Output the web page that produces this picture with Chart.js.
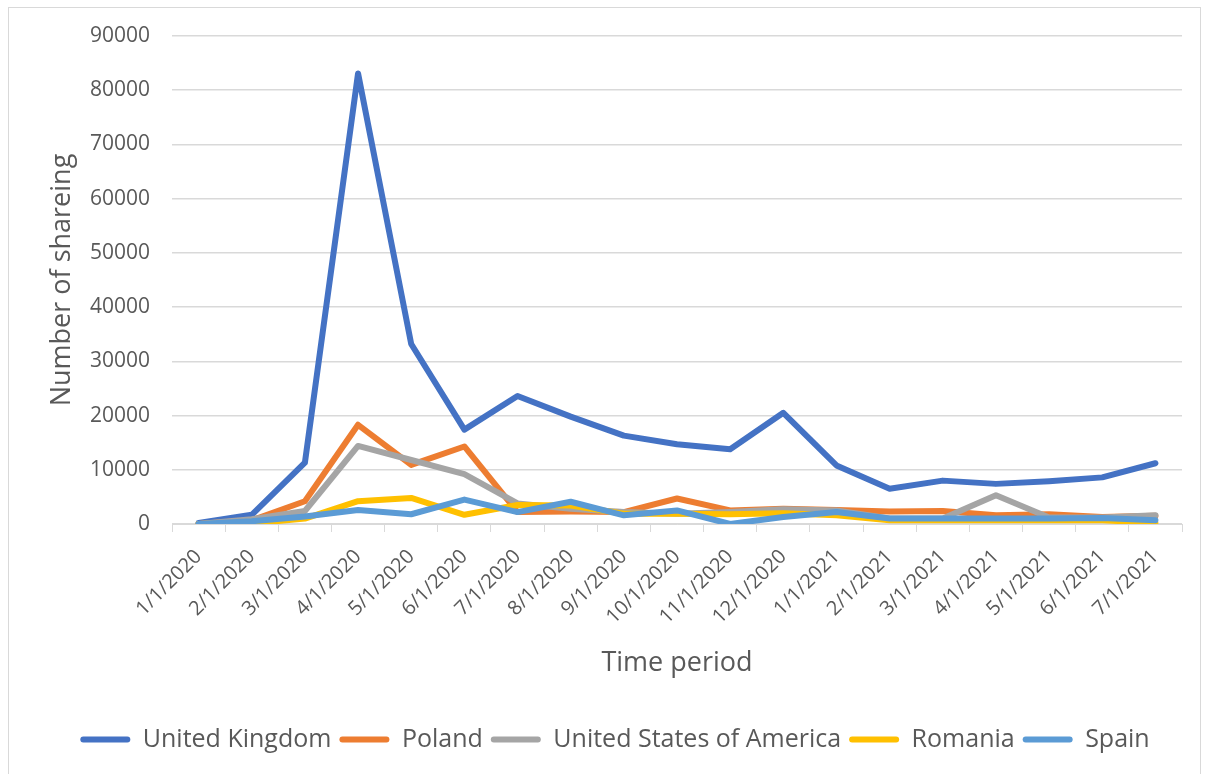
<!DOCTYPE html>
<html>
<head>
<meta charset="utf-8">
<script src="https://cdn.jsdelivr.net/npm/chart.js@4/dist/chart.umd.min.js"></script>
<style>
  html, body { margin: 0; padding: 0; background: #ffffff; }
  #wrap { position: relative; width: 1208px; height: 774px; }
</style>
</head>
<body>
<div id="wrap"><canvas id="c" width="1208" height="774"></canvas></div>
<script>
const categories = ["1/1/2020","2/1/2020","3/1/2020","4/1/2020","5/1/2020","6/1/2020","7/1/2020","8/1/2020","9/1/2020","10/1/2020","11/1/2020","12/1/2020","1/1/2021","2/1/2021","3/1/2021","4/1/2021","5/1/2021","6/1/2021","7/1/2021"];
const unitedKingdom = [200, 1700, 11300, 83100, 33200, 17400, 23600, 19800, 16300, 14700, 13800, 20500, 10800, 6500, 8000, 7400, 7900, 8600, 11200];
const poland        = [0, 700, 4200, 18300, 10900, 14300, 2200, 2300, 2200, 4700, 2500, 2800, 2600, 2300, 2400, 1600, 1800, 1300, 1500];
const unitedStates  = [0, 900, 2400, 14400, 11800, 9200, 3800, 2800, 2200, 1900, 2200, 2700, 2500, 1000, 1000, 5300, 1200, 1200, 1600];
const romania       = [0, 100, 1000, 4200, 4800, 1700, 3500, 3400, 1900, 1900, 1800, 2000, 1600, 700, 700, 700, 700, 700, 200];
const spain         = [0, 500, 1400, 2600, 1800, 4500, 2200, 4100, 1600, 2500, 0, 1300, 2200, 1000, 1000, 1000, 1000, 1100, 700];
const seriesNames = ["United Kingdom", "Poland", "United States of America", "Romania", "Spain"];
const yTicks = [0, 10000, 20000, 30000, 40000, 50000, 60000, 70000, 80000, 90000];

const colors = ["#4472C4", "#ED7D31", "#A5A5A5", "#FFC000", "#5B9BD5"];
const FONT = "'Open Sans', sans-serif";
const TXT = "#595959";

const seriesData = [unitedKingdom, poland, unitedStates, romania, spain];
const datasets = seriesData.map((d, i) => ({
  label: seriesNames[i],
  data: d,
  borderColor: colors[i],
  backgroundColor: colors[i],
  borderWidth: 6,
  pointRadius: 0,
  tension: 0,
  borderJoinStyle: 'round',
  borderCapStyle: 'round',
  order: seriesData.length - 1 - i
}));

const borderPlugin = {
  id: 'outerBorder',
  beforeDraw(chart) {
    const ctx = chart.ctx;
    ctx.save();
    ctx.fillStyle = '#ffffff';
    ctx.fillRect(0, 0, chart.width, chart.height);
    ctx.strokeStyle = '#D9D9D9';
    ctx.lineWidth = 1;
    ctx.strokeRect(8.5, 7.5, 1192, 780);
    ctx.restore();
  }
};

new Chart(document.getElementById('c'), {
  type: 'line',
  data: { labels: categories, datasets },
  plugins: [borderPlugin],
  options: {
    responsive: false,
    animation: false,
    devicePixelRatio: 1,
    layout: { padding: { left: 48, right: 26, top: 36, bottom: 12 } },
    plugins: {
      tooltip: { enabled: false },
      legend: {
        position: 'bottom',
        labels: {
          font: { family: FONT, size: 25 },
          color: TXT,
          boxWidth: 50,
          boxHeight: 6,
          padding: 8,
          useBorderRadius: true,
          borderRadius: 3,
          sort: (a, b) => a.datasetIndex - b.datasetIndex,
          generateLabels(chart) {
            const items = Chart.defaults.plugins.legend.labels.generateLabels(chart);
            items.forEach(it => { it.fillStyle = it.strokeStyle; it.lineWidth = 0; });
            return items;
          }
        }
      }
    },
    scales: {
      x: {
        offset: true,
        grid: { display: true, drawOnChartArea: false, drawTicks: true, tickLength: 8, offset: true, color: '#D9D9D9', lineWidth: 1 },
        border: { display: true, color: '#D9D9D9', width: 1 },
        ticks: { font: { family: FONT, size: 20 }, color: TXT, maxRotation: 45, minRotation: 45, autoSkip: false, padding: 13 },
        title: { display: true, text: 'Time period', font: { family: FONT, size: 27 }, color: TXT, padding: { top: 0, bottom: 39 } },
        afterFit(s) { s.height = 195; }
      },
      y: {
        min: 0, max: 90000,
        afterBuildTicks(s) { s.ticks = yTicks.map(v => ({ value: v })); },
        grid: { color: '#D9D9D9', lineWidth: 1.5, drawTicks: false },
        border: { display: false },
        ticks: { font: { family: FONT, size: 21 }, color: TXT, padding: 22, callback: v => String(v) },
        title: { display: true, text: 'Number of shareing', font: { family: FONT, size: 27 }, color: TXT, padding: { top: -2, bottom: 0 } },
        afterFit(s) { s.width = 124; }
      }
    }
  }
});
</script>
</body>
</html>
